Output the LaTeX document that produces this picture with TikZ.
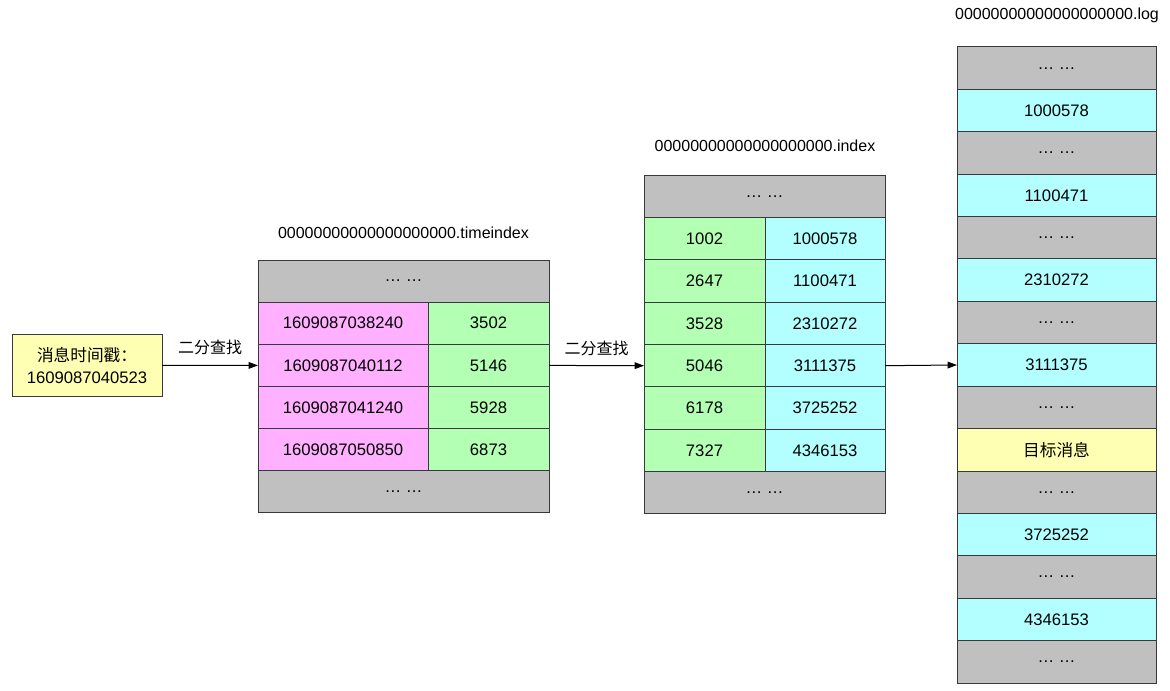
\documentclass[tikz,border=0pt]{standalone}
\usepackage{fontspec}
\setmainfont{Liberation Sans}
\newfontfamily\cjk{Noto Sans CJK SC}
\usetikzlibrary{arrows.meta}
\definecolor{cgray}{HTML}{C0C0C0}
\definecolor{cpink}{HTML}{FFB0FF}
\definecolor{cgreen}{HTML}{B3FFB3}
\definecolor{ccyan}{HTML}{B3FFFF}
\definecolor{cyel}{HTML}{FFFFB3}
\definecolor{bordc}{HTML}{36393D}
\colorlet{logg}{cgray}
\colorlet{logc}{ccyan}
\colorlet{logy}{cyel}
\begin{document}
\begin{tikzpicture}[x=0.75pt,y=-0.75pt,
  cellbox/.style={draw=bordc, line width=0.75pt, inner sep=0pt, outer sep=0pt,
    font=\fontsize{12.5}{17}\selectfont, text=black},
  cw/.style={minimum width=#1*0.75pt},
  ch/.style={minimum height=#1*0.75pt},
  arr/.style={draw=black, line width=0.75pt, -{Triangle[length=7pt,width=5pt]}},
  lbl/.style={font=\fontsize{12}{14}\selectfont, text=black, inner sep=0pt},
  title/.style={font=\fontsize{12}{14}\selectfont, text=black, inner sep=0pt}]
\useasboundingbox (0,0) rectangle (1170,691);

% start box
\node[cellbox, fill=cyel, cw=150, ch=62, align=center] (ts) at (87,365.4)
  {{\cjk 消息时间戳：}\\1609087040523};

% timeindex table
\node[title] (ti-title) at (403.5,233) {00000000000000000000.timeindex};
\node[cellbox, fill=cgray, cw=291, ch=42.17] (ti-top) at (403.5,281.1) {… …};
\foreach \l/\r [count=\i] in {1609087038240/3502, 1609087040112/5146, 1609087041240/5928, 1609087050850/6873}{
  \node[cellbox, fill=cpink, cw=170, ch=42.17] (ti-l\i) at (343,{260+42.17*(\i+0.5)}) {\l};
  \node[cellbox, fill=cgreen, cw=121, ch=42.17] (ti-r\i) at (488.5,{260+42.17*(\i+0.5)}) {\r};
}
\node[cellbox, fill=cgray, cw=291, ch=42.17] (ti-bot) at (403.5,491.9) {… …};

% index table
\node[title] (ix-title) at (765,146) {00000000000000000000.index};
\node[cellbox, fill=cgray, cw=241, ch=42.375] (ix-top) at (764.5,196.2) {… …};
\foreach \l/\r [count=\i] in {1002/1000578, 2647/1100471, 3528/2310272, 5046/3111375, 6178/3725252, 7327/4346153}{
  \node[cellbox, fill=cgreen, cw=121, ch=42.375] (ix-l\i) at (704.5,{175+42.375*(\i+0.5)}) {\l};
  \node[cellbox, fill=ccyan, cw=120, ch=42.375] (ix-r\i) at (825,{175+42.375*(\i+0.5)}) {\r};
}
\node[cellbox, fill=cgray, cw=241, ch=42.375] (ix-bot) at (764.5,492.8) {… …};

% log table
\node[title] (lg-title) at (1057,15) {00000000000000000000.log};
\foreach \t/\s [count=\i] in {g/{… …}, c/1000578, g/{… …}, c/1100471, g/{… …}, c/2310272, g/{… …}, c/3111375, g/{… …}, y/{\cjk 目标消息}, g/{… …}, c/3725252, g/{… …}, c/4346153, g/{… …}}{
  \node[cellbox, fill=log\t, cw=199, ch=42.4] (lg\i) at (1056.5,{47+42.4*(\i-0.5)}) {\s};
}

% connectors
\draw[arr] (ts.east) -- (ti-l2.west) node[lbl, midway, yshift=13.5pt] {\cjk 二分查找};
\draw[arr] (ti-r2.east) -- (ix-l4.west) node[lbl, midway, yshift=13pt] {\cjk 二分查找};
\draw[arr] (ix-r4.east) -- (lg8.west);
\end{tikzpicture}
\end{document}
